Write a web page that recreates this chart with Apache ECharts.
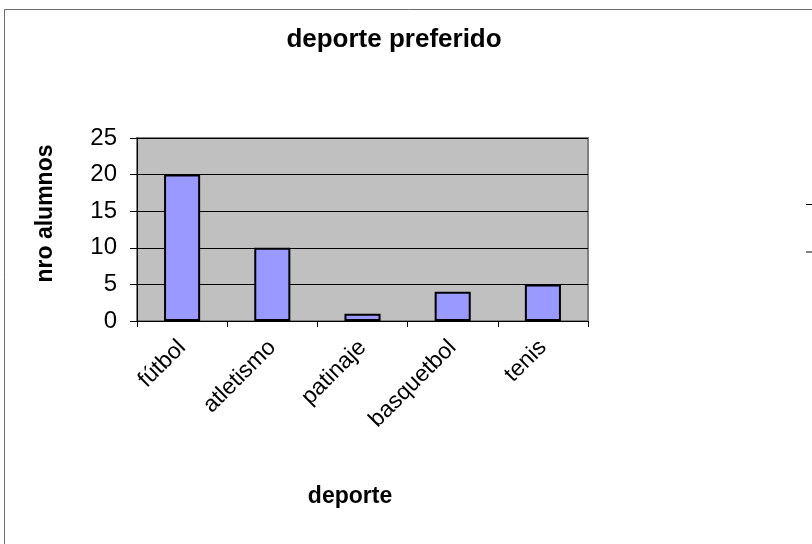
<!DOCTYPE html>
<html>
<head>
<meta charset="utf-8">
<style>
  html, body { margin: 0; padding: 0; background: #ffffff; }
  #chart { width: 812px; height: 544px; }
</style>
<script src="https://cdn.jsdelivr.net/npm/echarts@6/dist/echarts.min.js"></script>
</head>
<body>
<div id="chart"></div>
<script>
// Favourite sport survey: number of students per sport
const categories = ['fútbol', 'atletismo', 'patinaje', 'basquetbol', 'tenis'];
const alumnos = [20, 10, 1, 4, 5];
const yTicks = [0, 5, 10, 15, 20, 25];

const FONT = '"Liberation Sans", Arial, sans-serif';

const chart = echarts.init(document.getElementById('chart'), null, { renderer: 'canvas' });

chart.setOption({
  backgroundColor: '#ffffff',
  animation: false,
  title: {
    text: 'deporte preferido',
    left: 389,
    top: 22,
    textAlign: 'center',
    textStyle: { fontFamily: FONT, fontSize: 26, fontWeight: 'bold', color: '#000' }
  },
  grid: {
    left: 137,
    top: 138,
    width: 451,
    height: 183,
    show: true,
    backgroundColor: '#c0c0c0',
    borderColor: '#808080',
    borderWidth: 2
  },
  xAxis: {
    type: 'category',
    data: categories,
    name: 'deporte',
    nameLocation: 'middle',
    nameGap: 164,
    nameTextStyle: { fontFamily: FONT, fontSize: 23, fontWeight: 'bold', color: '#000', padding: [0, 25, 0, 0] },
    axisLine: { show: true, lineStyle: { color: '#000', width: 1 } },
    axisTick: { show: true, alignWithLabel: false, length: 6, lineStyle: { color: '#000' } },
    axisLabel: {
      rotate: 45,
      interval: 0,
      margin: 23,
      fontFamily: FONT,
      fontSize: 23,
      color: '#000'
    },
    splitLine: { show: false }
  },
  yAxis: {
    type: 'value',
    min: 0,
    max: 25,
    interval: 5,
    name: 'nro alumnos',
    nameLocation: 'middle',
    nameGap: 80,
    nameTextStyle: { fontFamily: FONT, fontSize: 23, fontWeight: 'bold', color: '#000', padding: [0, 0, 0, 32] },
    axisLine: { show: true, lineStyle: { color: '#000', width: 1 } },
    axisTick: { show: true, length: 7, lineStyle: { color: '#000' } },
    axisLabel: {
      margin: 20,
      fontFamily: FONT,
      fontSize: 24,
      color: '#000',
      formatter: v => (yTicks.includes(v) ? String(v) : '')
    },
    splitLine: { show: true, lineStyle: { color: '#000', width: 1 } }
  },
  series: [{
    type: 'bar',
    data: alumnos,
    barWidth: '40%',
    itemStyle: { color: '#9999ff', borderColor: '#000', borderWidth: 2 }
  }],
  graphic: [
    // chart frame (left and top edges visible)
    {
      type: 'rect',
      shape: { x: 4.5, y: 9.5, width: 900, height: 600 },
      style: { fill: 'none', stroke: '#6e6e6e', lineWidth: 1 },
      silent: true
    },
    // legend key remnants at the right edge
    {
      type: 'line',
      shape: { x1: 806, y1: 204.5, x2: 812, y2: 204.5 },
      style: { stroke: '#000', lineWidth: 1 }
    },
    {
      type: 'line',
      shape: { x1: 806, y1: 252, x2: 812, y2: 252 },
      style: { stroke: '#808080', lineWidth: 2 }
    }
  ]
});
</script>
</body>
</html>
